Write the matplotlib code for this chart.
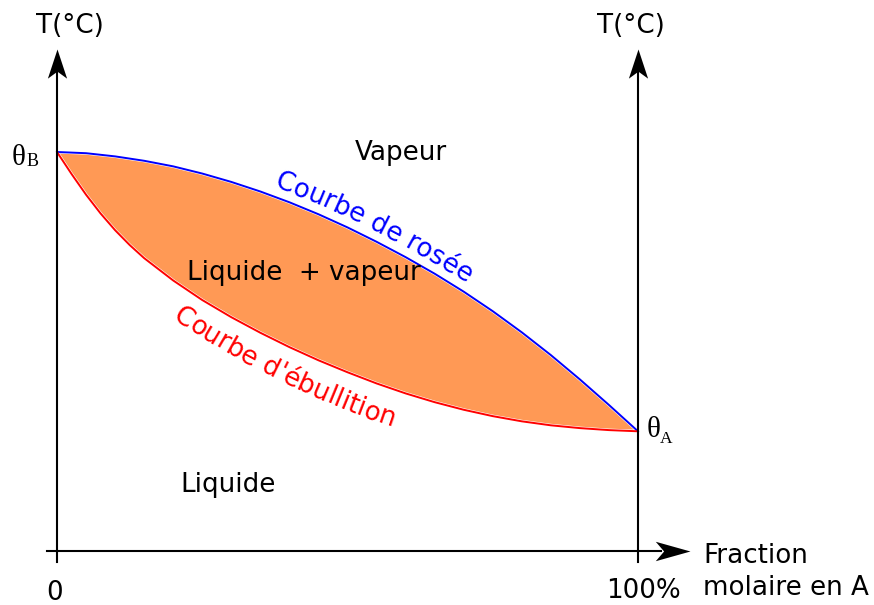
import numpy as np
import matplotlib
matplotlib.use("Agg")
import matplotlib.pyplot as plt
from matplotlib.path import Path
from matplotlib.font_manager import FontProperties, findfont, get_font

# Composition (fraction molaire en A, %) and temperatures (arbitrary scale, theta_B = 100)
x_dew = [0, 5, 10, 15, 20, 25, 30, 35, 40, 45, 50, 55, 60, 65, 70, 75, 80, 85, 90, 95, 100]
T_dew = [100, 99.7, 98.9, 97.8, 96.4, 94.6, 92.5, 90.1, 87.4, 84.4, 81.1, 77.5, 73.65,
         69.5, 65.0, 60.1, 54.8, 49.1, 43.0, 36.6, 30]

x_bub = [0, 2.5, 5, 7.5, 10, 12.5, 15, 20, 25, 30, 35, 40, 45, 50, 55, 60, 65, 70, 75, 80,
         85, 90, 95, 100]
T_bub = [100, 94.5, 89.3, 84.6, 80.4, 76.7, 73.4, 67.8, 62.9, 58.6, 54.7, 51.1, 47.8, 44.8,
         42.0, 39.5, 37.3, 35.4, 33.8, 32.5, 31.5, 30.8, 30.3, 30]

FS = 18.8
DPI = 100


def text_along(ax, xs, ys, text, x_start, shift, size, color):
    """Place text char by char on the curve shifted vertically by `shift` pixels."""
    pts = ax.transData.transform(np.column_stack([xs, ys]))
    pts[:, 1] += shift
    seg = np.hypot(np.diff(pts[:, 0]), np.diff(pts[:, 1]))
    s = np.concatenate([[0], np.cumsum(seg)])
    x0 = ax.transData.transform((x_start, 0))[0]
    pos = np.interp(x0, pts[:, 0], s)

    font = get_font(findfont(FontProperties(family="DejaVu Sans")))
    font.set_size(size, 72)
    px_per_pt = DPI / 72.0

    for ch in text:
        adv = font.load_char(ord(ch)).linearHoriAdvance / 65536 * px_per_pt
        mid = pos + adv / 2
        h = max(adv / 2, 6)
        xa, ya = np.interp(mid - h, s, pts[:, 0]), np.interp(mid - h, s, pts[:, 1])
        xb, yb = np.interp(mid + h, s, pts[:, 0]), np.interp(mid + h, s, pts[:, 1])
        ang = np.degrees(np.arctan2(yb - ya, xb - xa))
        px = np.interp(mid, s, pts[:, 0])
        py = np.interp(mid, s, pts[:, 1])
        if ch != " ":
            dx, dy = ax.transData.inverted().transform((px, py))
            ax.text(dx, dy, ch, rotation=ang, rotation_mode="anchor",
                    ha="center", va="baseline", fontsize=size, color=color,
                    family="DejaVu Sans")
        pos += adv


fig = plt.figure(figsize=(8.74, 6.05), dpi=DPI)
ax = fig.add_axes([0, 0, 1, 1])
ax.set_xlim(-57 / 5.81, 817 / 5.81)
ax.set_ylim(-54 / 3.99, 551 / 3.99)
ax.axis("off")

# two-phase region
ax.fill(np.r_[x_dew, x_bub[::-1]], np.r_[T_dew, T_bub[::-1]],
        facecolor="#ff9955", edgecolor="white", linewidth=2.2, zorder=1)
ax.plot(x_dew, T_dew, color="#0000ff", linewidth=1.4, zorder=3)
ax.plot(x_bub, T_bub, color="#ff0000", linewidth=1.4, zorder=3)

# axes, with stealth-like arrow heads (tip at the marker origin)
head_up = Path([(0, 0), (-0.33, -1), (0, -0.76), (0.33, -1), (0, 0)],
               [Path.MOVETO, Path.LINETO, Path.LINETO, Path.LINETO, Path.CLOSEPOLY])
head_right = Path([(0, 0), (-1, 0.28), (-0.76, 0), (-1, -0.28), (0, 0)],
                  [Path.MOVETO, Path.LINETO, Path.LINETO, Path.LINETO, Path.CLOSEPOLY])
for xa in (0, 100):
    ax.plot([xa, xa], [-2.8, 122], color="black", linewidth=1.5, zorder=4)
    ax.plot([xa], [125.9], marker=head_up, markersize=42, color="black",
            markeredgewidth=0, zorder=5)
ax.plot([-1.7, 104], [0, 0], color="black", linewidth=1.5, zorder=4)
ax.plot([108.9], [0], marker=head_right, markersize=50, color="black",
        markeredgewidth=0, zorder=5)

# labels
ax.text(2.2, 129.8, "T(°C)", fontsize=FS, ha="center", va="baseline")
ax.text(98.8, 129.8, "T(°C)", fontsize=FS, ha="center", va="baseline")
ax.text(-0.5, -12.3, "0", fontsize=FS, ha="center", va="baseline")
ax.text(100.9, -11.8, "100%", fontsize=FS, ha="center", va="baseline")
ax.text(111.2, -3.0, "Fraction", fontsize=FS, ha="left", va="baseline")
ax.text(111.2, -11.0, "molaire en A", fontsize=FS, ha="left", va="baseline")

ax.text(-7.8, 96.7, "θ", fontsize=21, family="Liberation Serif", ha="left", va="baseline")
ax.text(-5.3, 96.5, "B", fontsize=13, family="Liberation Serif", ha="left", va="baseline")
ax.text(101.55, 28.6, "θ", fontsize=21, family="Liberation Serif", ha="left", va="baseline")
ax.text(103.8, 27.1, "A", fontsize=12.5, family="Liberation Serif", ha="left", va="baseline")

ax.text(51.3, 98.0, "Vapeur", fontsize=FS, ha="left", va="baseline")
ax.text(22.4, 67.9, "Liquide  + vapeur", fontsize=FS, ha="left", va="baseline", zorder=5)
ax.text(21.2, 14.8, "Liquide", fontsize=FS, ha="left", va="baseline")

text_along(ax, x_dew, T_dew, "Courbe de rosée", 37.3, 9, FS, "#0000ff")
text_along(ax, x_bub, T_bub, "Courbe d'ébullition", 19.8, -39, FS, "#ff0000")

fig.savefig("out.png", dpi=DPI)
